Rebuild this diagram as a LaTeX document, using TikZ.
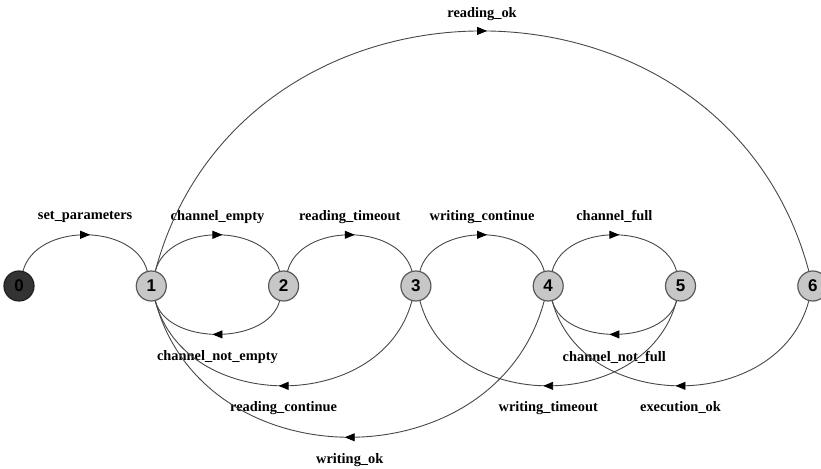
\documentclass[tikz,border=0pt]{standalone}
\usepackage{fontspec}
\setmainfont{Liberation Serif}
\setsansfont{Liberation Sans}
\usetikzlibrary{arrows.meta,positioning,decorations.markings}

\begin{document}
\begin{tikzpicture}[x=1pt,y=1pt,node distance=101.1pt,>=Triangle]
\tikzstyle{state}=[circle,draw=black!65,fill=black!22,line width=1.2pt,minimum size=30pt,inner sep=0pt,font=\sffamily\bfseries\fontsize{17}{17}\selectfont]
\tikzstyle{hop}=[draw=black!72,line width=0.9pt,bend left=75,looseness=1.03,postaction={decorate},decoration={markings,mark=at position .5 with {\arrow[black,xshift=5pt]{Triangle[length=10pt,width=8pt]}}}]
\tikzstyle{lbl}=[font=\bfseries\fontsize{14.4}{16}\selectfont,inner sep=0pt]
\useasboundingbox (0,0) rectangle (821,468);
% states
\node[state,fill=black!80,draw=black!88] (s0) at (19,182) {0};
\node[state,right=of s0] (s1) {1};
\node[state,right=of s1] (s2) {2};
\node[state,right=of s2] (s3) {3};
\node[state,right=of s3] (s4) {4};
\node[state,right=of s4] (s5) {5};
\node[state,right=of s5] (s6) {6};
% forward transitions (over the top)
\draw[hop] (s0) to node[lbl,yshift=18pt] (lSet) {set\_parameters} (s1);
\draw[hop] (s1) to node[lbl,yshift=18pt] (lEmpty) {channel\_empty} (s2);
\draw[hop] (s2) to node[lbl,yshift=18pt] (lTimeout) {reading\_timeout} (s3);
\draw[hop] (s3) to node[lbl,yshift=18pt] (lWcont) {writing\_continue} (s4);
\draw[hop] (s4) to node[lbl,yshift=18pt] (lFull) {channel\_full} (s5);
\draw[hop,looseness=1.3] (s1) to node[lbl,yshift=17pt] (lRok) {reading\_ok} (s6);
% backward transitions (underneath)
\draw[hop,looseness=.95] (s2) to node[lbl,yshift=-23pt] (lNotEmpty) {channel\_not\_empty} (s1);
\draw[hop,looseness=1.17] (s3) to node[lbl,yshift=-22pt] (lRcont) {reading\_continue} (s1);
\draw[hop,looseness=1.24] (s4) to node[lbl,yshift=-23pt] (lWok) {writing\_ok} (s1);
\draw[hop,looseness=.95] (s5) to node[lbl,yshift=-23pt] (lNotFull) {channel\_not\_full} (s4);
\draw[hop,looseness=1.17] (s5) to node[lbl,yshift=-22pt] (lWtimeout) {writing\_timeout} (s3);
\draw[hop,looseness=1.17] (s6) to node[lbl,yshift=-22pt] (lExec) {execution\_ok} (s4);
\end{tikzpicture}
\end{document}
